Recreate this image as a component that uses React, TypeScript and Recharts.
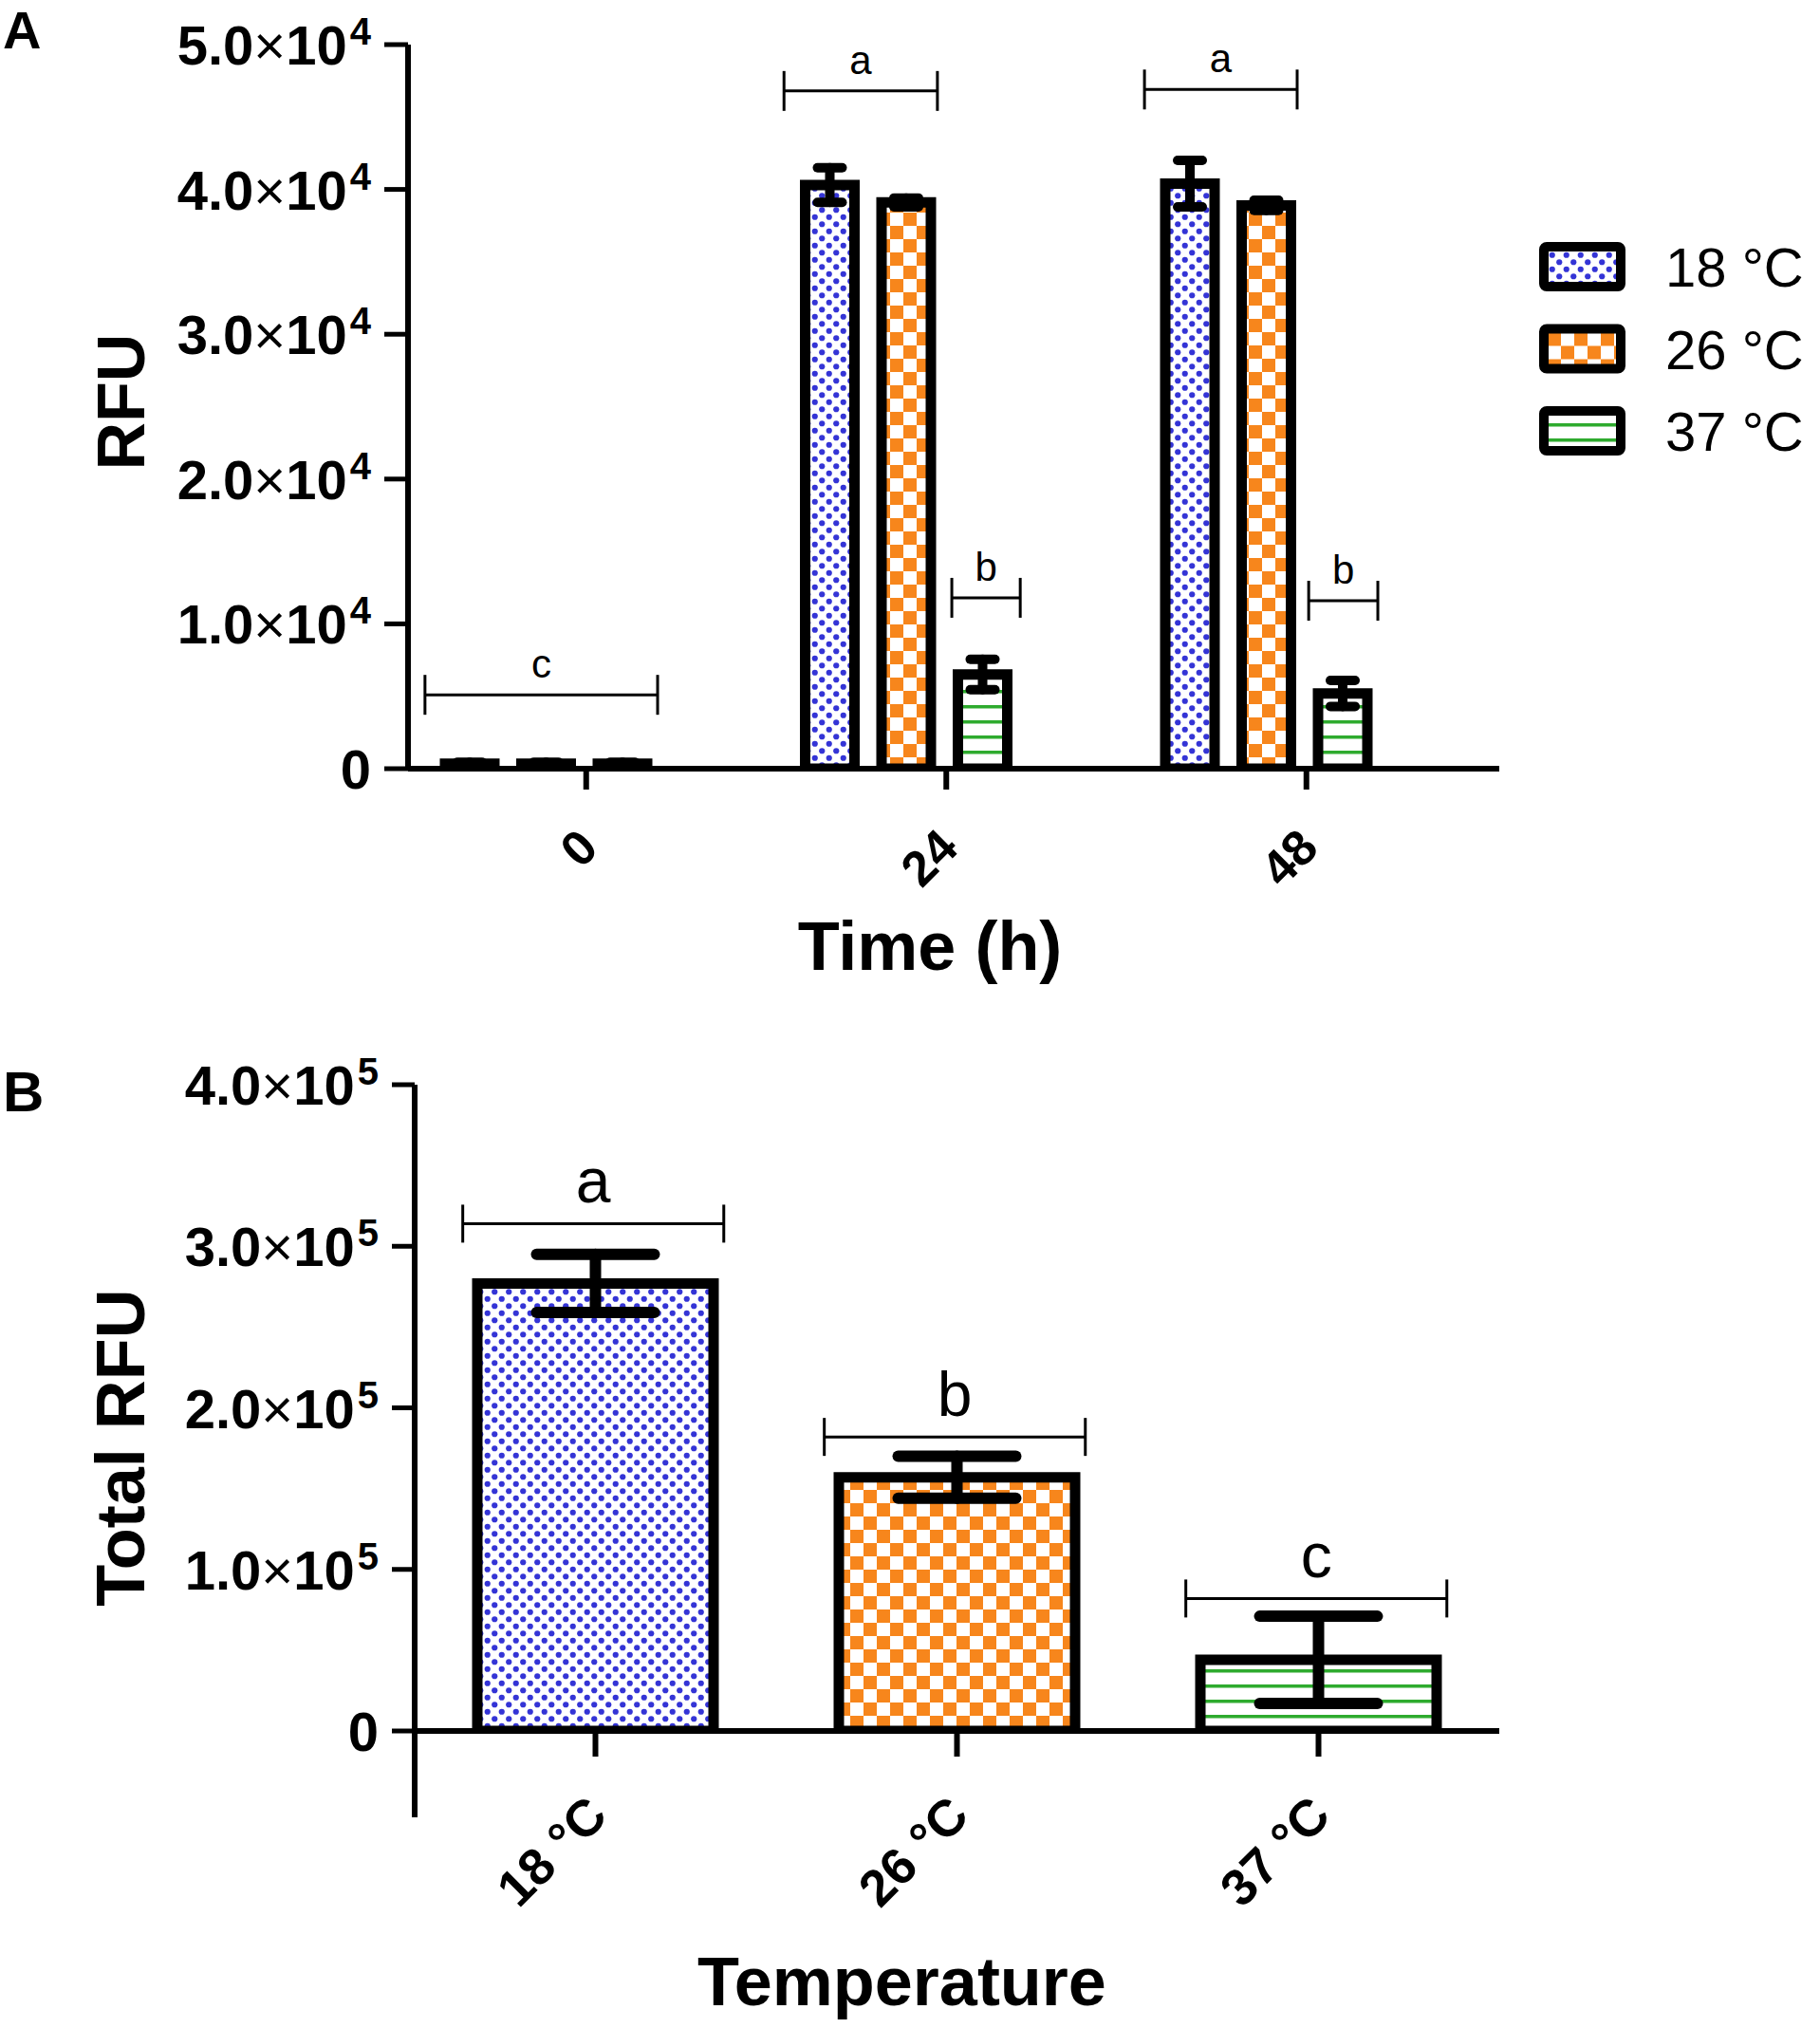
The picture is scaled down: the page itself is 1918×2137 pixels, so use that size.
import React from "react";
import { BarChart, Bar, XAxis, YAxis, ErrorBar, Cell, Legend, ReferenceLine, Label } from "recharts";

const FONT = "'Liberation Sans', Arial, sans-serif";

// Panel A: RFU over time
const timePoints = ["0", "24", "48"];
const rfu18 = [350, 40300, 40400];
const err18 = [100, 1200, 1600];
const rfu26 = [350, 39100, 38900];
const err26 = [100, 300, 350];
const rfu37 = [350, 6500, 5200];
const err37 = [100, 1050, 900];
const ticksA = [0, 10000, 20000, 30000, 40000, 50000];

// significance brackets, x in category units
const bracketsA = [
  { from: 0.163, to: 0.809, y: 5100, text: "c" },
  { from: 1.16, to: 1.586, y: 46800, text: "a" },
  { from: 1.626, to: 1.816, y: 11800, text: "b" },
  { from: 2.161, to: 2.585, y: 46900, text: "a" },
  { from: 2.617, to: 2.809, y: 11600, text: "b" },
];

// Panel B: total RFU per temperature
const temps = ["18 °C", "26 °C", "37 °C"];
const totalRfu = [277000, 157000, 44000];
const totalErr = [18000, 13000, 27000];
const ticksB = [0, 100000, 200000, 300000, 400000];
const bracketsB = [
  { from: 0.133, to: 0.855, y: 314000, text: "a" },
  { from: 1.133, to: 1.855, y: 182000, text: "b" },
  { from: 2.133, to: 2.855, y: 82000, text: "c" },
];

const fills = ["url(#dots18)", "url(#check26)", "url(#lines37)"];

const dataA = timePoints.map((t, i) => ({
  time: t,
  idx: i,
  t18: rfu18[i], e18: err18[i],
  t26: rfu26[i], e26: err26[i],
  t37: rfu37[i], e37: err37[i],
}));

const dataB = temps.map((t, i) => ({ temp: t, idx: i, total: totalRfu[i], err: totalErr[i] }));

const PowTick = ({ x, y, payload, exp }: any) => {
  const v = payload.value;
  if (v === 0) {
    return (
      <text x={x} y={y + 21} textAnchor="end" fontFamily={FONT} fontSize={58} fontWeight="bold" fill="#000">0</text>
    );
  }
  const m = (v / Math.pow(10, exp)).toFixed(1);
  return (
    <text x={x} y={y + 21} textAnchor="end" fontFamily={FONT} fontSize={58} fontWeight="bold" fill="#000">
      {m}
      <tspan fontWeight="normal" fontSize={58}>×</tspan>
      10
      <tspan dx={3} dy={-21} fontSize={40}>{exp}</tspan>
    </text>
  );
};

const TickB = (p: any) => (
  <g>
    <PowTick {...p} exp={5} />
    {p.payload.value === 0 && (
      <line x1={p.x + 38} x2={p.x + 38} y1={p.y} y2={p.y + 91} stroke="#000" strokeWidth={6} />
    )}
  </g>
);

const TimeTick = ({ x, y, payload }: any) => (
  <g>
    <line x1={x + 42} x2={x + 42} y1={y} y2={y + 22} stroke="#000" strokeWidth={6} />
    <text
      x={x + 57}
      y={y + 86}
      transform={`rotate(-45 ${x + 57} ${y + 86})`}
      textAnchor="end"
      fontFamily={FONT}
      fontSize={52}
      fontWeight="bold"
      fill="#000"
    >
      {payload.value}
    </text>
  </g>
);

const TempTick = ({ x, y, payload }: any) => (
  <g>
    <line x1={x} x2={x} y1={y} y2={y + 27} stroke="#000" strokeWidth={6} />
    <text
      x={x + 15}
      y={y + 92}
      transform={`rotate(-45 ${x + 15} ${y + 92})`}
      textAnchor="end"
      fontFamily={FONT}
      fontSize={54}
      fontWeight="bold"
      fill="#000"
    >
      {payload.value}
    </text>
  </g>
);

const bracketShape = (half: number) => (p: any) => (
  <g>
    <line x1={p.x1} y1={p.y1} x2={p.x2} y2={p.y2} stroke="#000" strokeWidth={3} />
    <line x1={p.x1} y1={p.y1 - half} x2={p.x1} y2={p.y1 + half} stroke="#000" strokeWidth={3} />
    <line x1={p.x2} y1={p.y2 - half} x2={p.x2} y2={p.y2 + half} stroke="#000" strokeWidth={3} />
  </g>
);

const TimeTitle = ({ viewBox }: any) => (
  <text x={viewBox.x + viewBox.width / 2 - 25} y={viewBox.y + 212} textAnchor="middle"
    fontFamily={FONT} fontSize={72} fontWeight="bold" fill="#000">Time (h)</text>
);

const RfuTitle = ({ viewBox }: any) => {
  const cy = viewBox.y + viewBox.height / 2 - 5;
  return (
    <g>
      <text x={3} y={viewBox.y + 4} fontFamily={FONT} fontSize={56} fontWeight="bold" fill="#000">A</text>
      <text x={152} y={cy} transform={`rotate(-90 152 ${cy})`} textAnchor="middle"
        fontFamily={FONT} fontSize={70} fontWeight="bold" fill="#000">RFU</text>
    </g>
  );
};

const TempTitle = ({ viewBox }: any) => (
  <text x={viewBox.x + viewBox.width / 2 - 58} y={viewBox.y + 289} textAnchor="middle"
    fontFamily={FONT} fontSize={72} fontWeight="bold" fill="#000">Temperature</text>
);

const TotalTitle = ({ viewBox }: any) => {
  const cy = viewBox.y + viewBox.height / 2 + 42;
  return (
    <g>
      <text x={3} y={viewBox.y + 28} fontFamily={FONT} fontSize={60} fontWeight="bold" fill="#000">B</text>
      <text x={152} y={cy} transform={`rotate(-90 152 ${cy})`} textAnchor="middle"
        fontFamily={FONT} fontSize={72} fontWeight="bold" fill="#000">Total RFU</text>
    </g>
  );
};

const LegendBox = (props: any) => (
  <svg width={296} height={270}>
    {(props.payload || []).map((e: any, i: number) => (
      <g key={i} transform={`translate(0, ${i * 86.5})`}>
        <rect x={10} y={10} width={81} height={42} rx={3} fill={e.color} stroke="#000" strokeWidth={10} />
        <text x={138} y={52} fontFamily={FONT} fontSize={58} fill="#000">{e.value}</text>
      </g>
    ))}
  </svg>
);

const axisStroke = { stroke: "#000", strokeWidth: 6 };

export default function App() {
  return (
    <div style={{ position: "absolute", left: 0, top: 0, width: 1918, height: 2137, background: "#fff" }}>
      <svg width={0} height={0} style={{ position: "absolute" }}>
        <defs>
          <pattern id="dots18" width={15} height={15} patternUnits="userSpaceOnUse">
            <rect width={15} height={15} fill="#fff" />
            <circle cx={3.75} cy={3.75} r={3.1} fill="#3434d6" />
            <circle cx={11.25} cy={11.25} r={3.1} fill="#3434d6" />
          </pattern>
          <pattern id="check26" width={28} height={28} patternUnits="userSpaceOnUse">
            <rect width={28} height={28} fill="#fff" />
            <rect x={0} y={0} width={14} height={14} fill="#f7861c" />
            <rect x={14} y={14} width={14} height={14} fill="#f7861c" />
          </pattern>
          <pattern id="lines37" width={10} height={16} patternUnits="userSpaceOnUse">
            <rect width={10} height={16} fill="#fff" />
            <rect x={0} y={7} width={10} height={3.5} fill="#2eab2e" />
          </pattern>
        </defs>
      </svg>

      <div style={{ position: "absolute", left: 0, top: 0 }}>
        <BarChart width={1918} height={1060} data={dataA} margin={{ top: 47, right: 338, bottom: 0, left: 0 }}
          barGap={28.5} barSize={52}>
          <XAxis dataKey="time" padding={{ left: -44, right: 55.5 }} height={250} interval={0}
            tickLine={false} tickSize={0} tickMargin={0} axisLine={axisStroke} tick={TimeTick}>
            <Label content={TimeTitle} />
          </XAxis>
          <XAxis xAxisId="ann" dataKey="idx" type="number" domain={[0, 3]} hide allowDataOverflow
            padding={{ left: -44, right: 55.5 }} />
          <YAxis domain={[0, 50000]} ticks={ticksA} width={430} interval={0} allowDataOverflow
            tickSize={25} tickMargin={14} tickLine={{ stroke: "#000", strokeWidth: 5 }} axisLine={axisStroke}
            tick={(p: any) => <PowTick {...p} exp={4} />}>
            <Label content={RfuTitle} />
          </YAxis>
          <Legend layout="vertical" align="center" verticalAlign="middle"
            wrapperStyle={{ left: 1617, top: 250, width: 296 }} content={LegendBox} />
          <Bar dataKey="t18" name="18 °C" fill={fills[0]} stroke="#000" strokeWidth={11} isAnimationActive={false}>
            <ErrorBar dataKey="e18" width={13} stroke="#000" strokeWidth={10} strokeLinecap="round" isAnimationActive={false} />
          </Bar>
          <Bar dataKey="t26" name="26 °C" fill={fills[1]} stroke="#000" strokeWidth={11} isAnimationActive={false}>
            <ErrorBar dataKey="e26" width={13} stroke="#000" strokeWidth={10} strokeLinecap="round" isAnimationActive={false} />
          </Bar>
          <Bar dataKey="t37" name="37 °C" fill={fills[2]} stroke="#000" strokeWidth={11} isAnimationActive={false}>
            <ErrorBar dataKey="e37" width={13} stroke="#000" strokeWidth={10} strokeLinecap="round" isAnimationActive={false} />
          </Bar>
          {bracketsA.map((b, i) => (
            <ReferenceLine key={i} xAxisId="ann" segment={[{ x: b.from, y: b.y }, { x: b.to, y: b.y }]}
              shape={bracketShape(21)}
              label={{ value: b.text, position: "top", offset: 18, fontSize: 42, fill: "#000", fontFamily: FONT }} />
          ))}
        </BarChart>
      </div>

      <div style={{ position: "absolute", left: 0, top: 1080 }}>
        <BarChart width={1918} height={1057} data={dataB} margin={{ top: 63, right: 338, bottom: 0, left: 0 }}
          barSize={249}>
          <XAxis dataKey="temp" height={313} interval={0} tickLine={false} tickSize={0} tickMargin={0}
            axisLine={axisStroke} tick={TempTick}>
            <Label content={TempTitle} />
          </XAxis>
          <XAxis xAxisId="ann" dataKey="idx" type="number" domain={[0, 3]} hide allowDataOverflow />
          <YAxis domain={[0, 400000]} ticks={ticksB} width={437} interval={0} allowDataOverflow
            tickSize={24} tickMargin={14} tickLine={{ stroke: "#000", strokeWidth: 5 }} axisLine={axisStroke}
            tick={TickB}>
            <Label content={TotalTitle} />
          </YAxis>
          <Bar dataKey="total" stroke="#000" strokeWidth={11} isAnimationActive={false}>
            {dataB.map((d, i) => (
              <Cell key={d.temp} fill={fills[i]} />
            ))}
            <ErrorBar dataKey="err" width={62} stroke="#000" strokeWidth={12} strokeLinecap="round" isAnimationActive={false} />
          </Bar>
          {bracketsB.map((b, i) => (
            <ReferenceLine key={i} xAxisId="ann" segment={[{ x: b.from, y: b.y }, { x: b.to, y: b.y }]}
              shape={bracketShape(20)}
              label={{ value: b.text, position: "top", offset: 22, fontSize: 66, fill: "#000", fontFamily: FONT }} />
          ))}
        </BarChart>
      </div>
    </div>
  );
}
